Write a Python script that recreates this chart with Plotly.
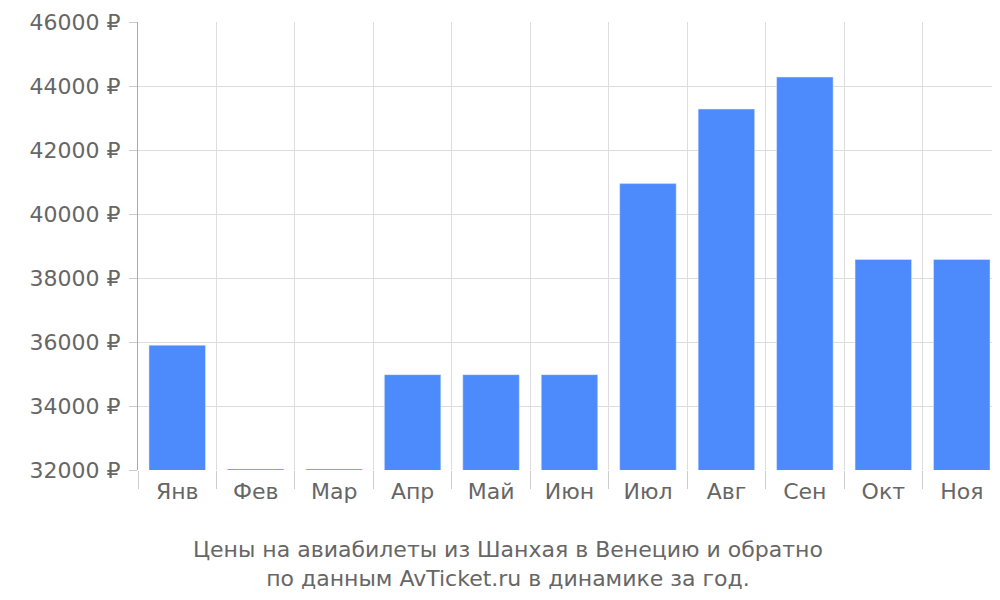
import plotly.graph_objects as go

months = ["Янв", "Фев", "Мар", "Апр", "Май", "Июн", "Июл", "Авг", "Сен", "Окт", "Ноя"]
prices = [35900, 32030, 32030, 34980, 34980, 34980, 40950, 43280, 44280, 38580, 38580]
yticks = [32000, 34000, 36000, 38000, 40000, 42000, 44000, 46000]
ylabels = [f"{v} ₽" for v in yticks]

fig = go.Figure(go.Bar(x=months, y=prices, marker_color="#4d8afb", width=0.72))
fig.update_layout(
    width=1000, height=600, plot_bgcolor="white", paper_bgcolor="white",
    margin=dict(l=130, r=7, t=14, b=138, autoexpand=False),
    font=dict(family="DejaVu Sans", size=22, color="#666666"),
    showlegend=False,
    annotations=[dict(text="Цены на авиабилеты из Шанхая в Венецию и обратно<br>по данным AvTicket.ru в динамике за год.",
                      x=(500 - 130) / 863, xref="paper", y=-0.145, yref="paper", yanchor="top",
                      showarrow=False, font=dict(size=22, color="#666666"))],
)
fig.update_xaxes(tickson="boundaries", ticks="outside", ticklen=18, tickcolor="#cccccc",
                 showgrid=True, gridcolor="#dddddd", showline=False, automargin=False,
                 ticklabelstandoff=6)
fig.update_yaxes(range=[32000, 46000], tickvals=yticks, ticktext=ylabels,
                 showgrid=True, gridcolor="#dddddd", showline=True, linecolor="#aaaaaa",
                 ticks="outside", ticklen=8, tickcolor="#cccccc", zeroline=False,
                 automargin=False, ticklabelstandoff=4)
fig.write_html("out.html")
